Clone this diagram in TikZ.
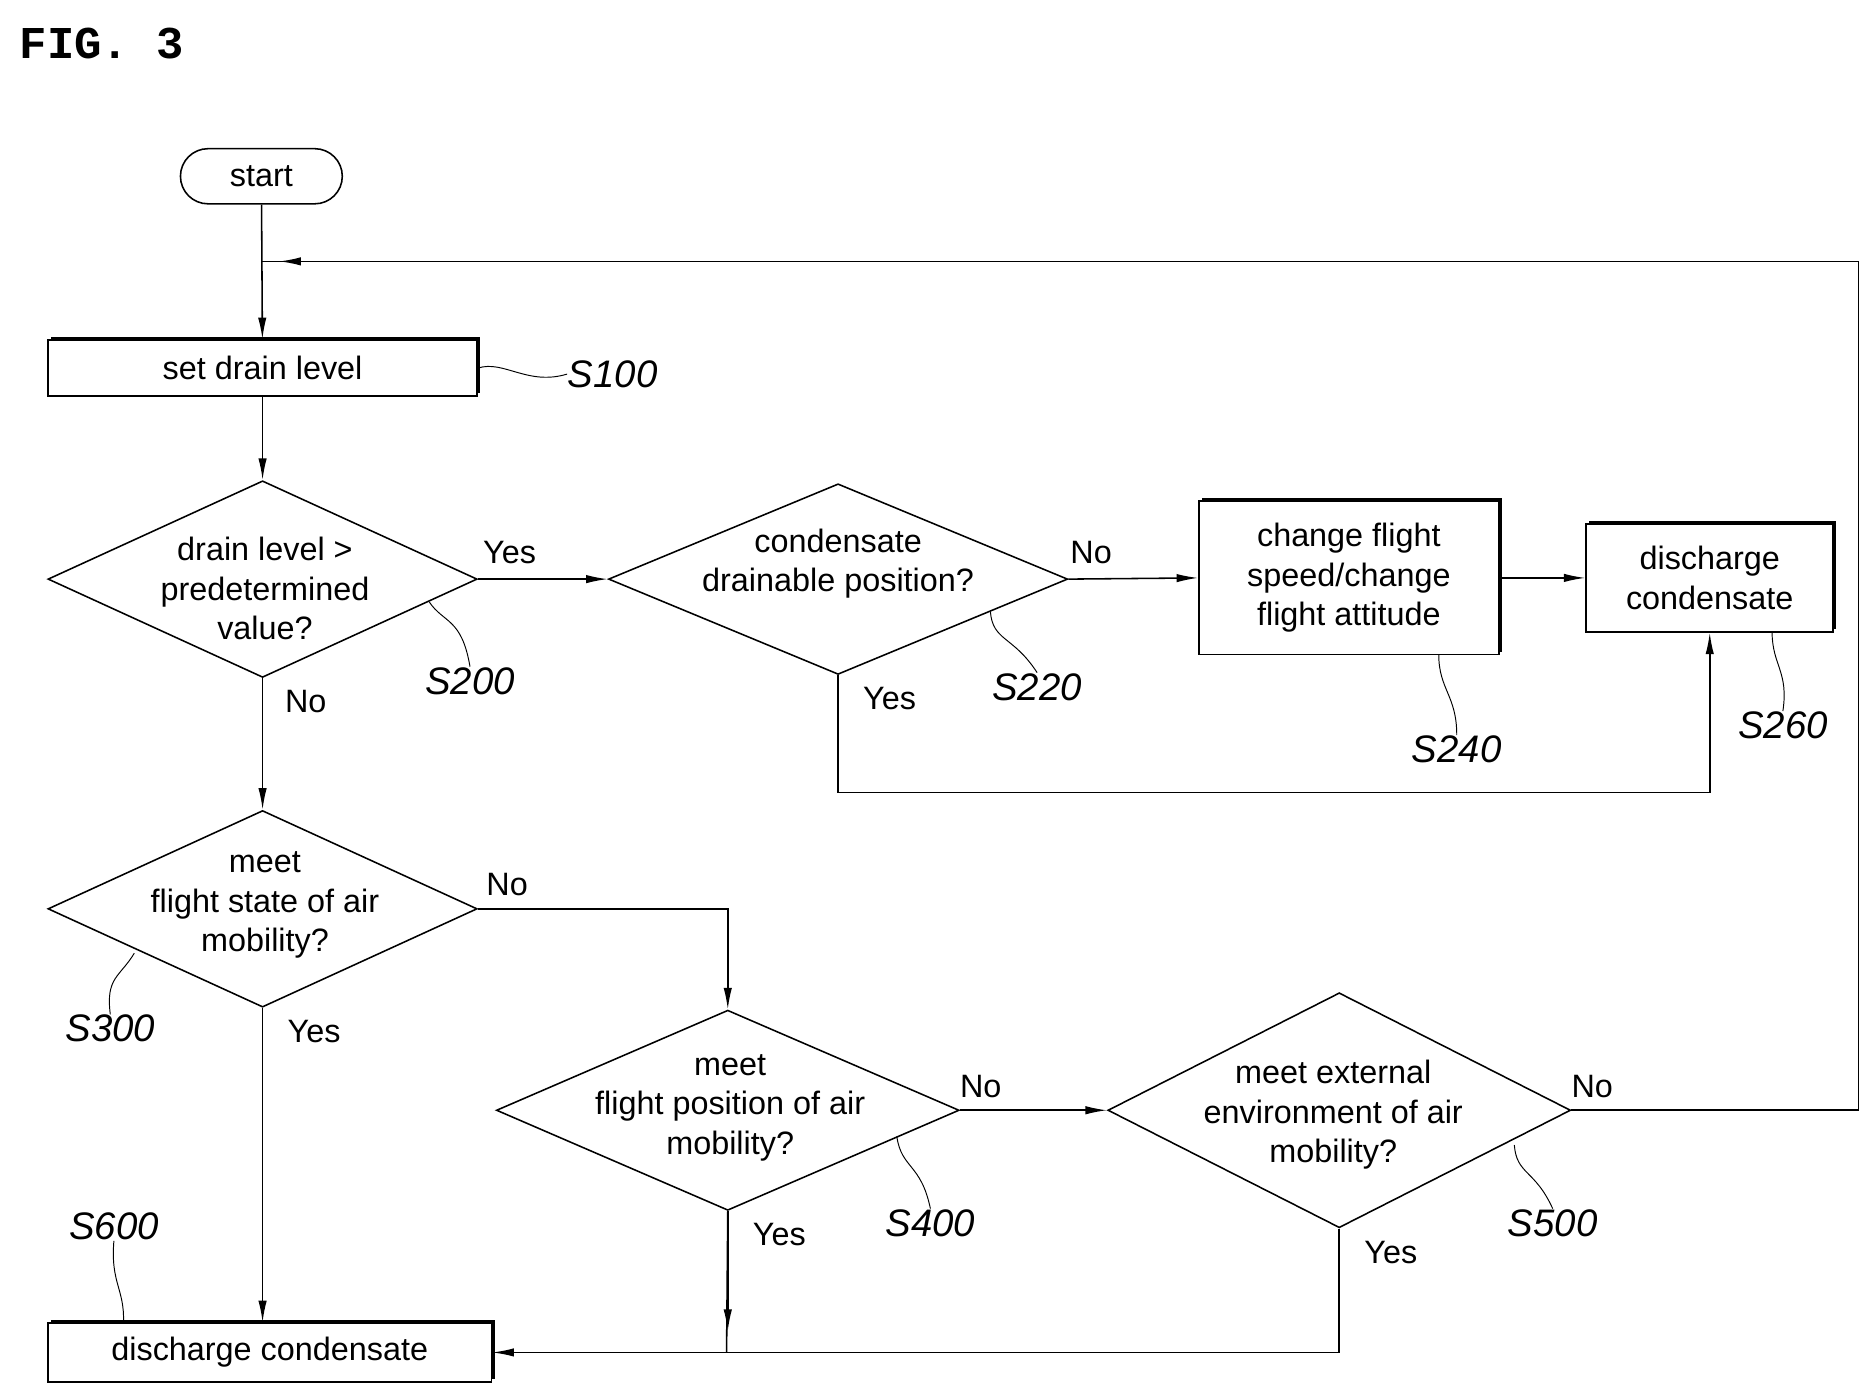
\documentclass[tikz,border=0pt]{standalone}
\usepackage{fontspec}
\setmainfont{Liberation Sans}
\newfontfamily\figfont{Liberation Mono}
\usetikzlibrary{arrows.meta,shapes.geometric,shadows}
\begin{document}
\begin{tikzpicture}[x=1pt,y=-1pt,
  line width=1.3pt,
  txt/.style={font=\fontsize{27}{33}\selectfont, align=center, inner sep=0pt},
  lab/.style={font=\fontsize{32}{32}\selectfont\rmfamily\itshape, inner sep=0pt},
  box/.style={draw, rectangle, inner sep=0pt, fill=white, drop shadow={shadow xshift=2.5pt, shadow yshift=2.5pt, fill=black, opacity=1}},
  dia/.style={draw, diamond, inner sep=0pt, aspect=2.2},
  arr/.style={-{Latex[length=18pt,width=7pt]}},
  sq/.style={line width=0.8pt}]
\useasboundingbox (0,0) rectangle (1553,1160);
\node[anchor=west, font=\figfont\bfseries\fontsize{38}{38}\selectfont, inner sep=0pt] (fig) at (16,36) {FIG.\ 3};
% nodes
\node[draw, rounded corners=23pt, minimum width=135pt, minimum height=46pt, inner sep=0pt] (start) at (218,147) {};
\node[txt] at (start) {start};
\node[box, minimum width=358pt, minimum height=47pt] (s100) at (219,307) {};
\node[txt] at (s100) {set drain level};
\node[dia, minimum width=358pt, minimum height=164pt] (d1) at (219,483) {};
\node[txt] at (221,491) {drain level >\\predetermined\\value?};
\node[dia, minimum width=383pt, minimum height=159pt] (d2) at (699,483) {};
\node[txt] at (699,470) {condensate\\drainable position?};
\node[box, minimum width=250pt, minimum height=128pt] (s240) at (1125,482) {};
\node[txt] at (s240) {change flight\\speed/change\\flight attitude};
\node[box, minimum width=206pt, minimum height=90pt] (s260) at (1426,482) {};
\node[txt] at (s260) {discharge\\condensate};
\node[dia, minimum width=358pt, minimum height=164pt] (d3) at (219,758) {};
\node[txt] at (221,755) {meet\\flight state of air\\mobility?};
\node[dia, minimum width=386pt, minimum height=167pt] (d4) at (607,926) {};
\node[txt] at (609,924) {meet\\flight position of air\\mobility?};
\node[dia, minimum width=386pt, minimum height=196pt] (d5) at (1117,926) {};
\node[txt] at (1112,930) {meet external\\environment of air\\mobility?};
\node[box, minimum width=370pt, minimum height=49pt] (s600) at (225,1128) {};
\node[txt] at (s600) {discharge condensate};
% connectors
\coordinate (loop) at (218,218);
\coordinate (j4) at (606,1128);
\draw[arr] (start) -- (s100);
\draw[arr] (s100) -- (d1);
\draw[arr] (d1.east) -- (d2.west);
\draw[arr] (d2.east) -- (s240.west);
\draw[arr] (s240.east) -- (s260.west);
\draw[arr] (d2.south) -- ++(0,98) -| (s260.south);
\draw[arr] (d1.south) -- (d3.north);
\draw[arr] (d3.east) -| (d4.north);
\draw[arr] (d4.east) -- (d5.west);
\draw[arr] (d3.south) -- (s600.north -| d3.south);
\draw (d5.east) -- (1550,926) -- (1550,218) -- (loop);
\draw[arr] (1550,218) -- (233,218);
\draw[arr] (d4.south) -- ++(0,100);
\draw (d4.south) -- (j4);
\draw[arr] (d5.south) |- (s600.east);
% Yes/No labels
\node[txt] at (425,461) {Yes};
\node[txt] at (910,461) {No};
\node[txt] at (742,583) {Yes};
\node[txt] at (255,585) {No};
\node[txt] at (423,738) {No};
\node[txt] at (262,860) {Yes};
\node[txt] at (818,906) {No};
\node[txt] at (650,1030) {Yes};
\node[txt] at (1328,906) {No};
\node[txt] at (1160,1045) {Yes};
% step labels with leaders
\node[lab] (l100) at (511,312) {S100};
\draw[sq] (s100.east) .. controls (420,300) and (440,322) .. (l100.west);
\node[lab] (l200) at (392,568) {S200};
\draw[sq] (358,502) .. controls (370,520) and (385,515) .. (l200.north);
\node[lab] (l220) at (865,573) {S220};
\draw[sq] (826,510) .. controls (828,535) and (845,530) .. (l220.north);
\node[lab] (l240) at (1215,625) {S240};
\draw[sq] (1200,546) .. controls (1200,575) and (1215,580) .. (l240.north);
\node[lab] (l260) at (1487,605) {S260};
\draw[sq] (1478,527) .. controls (1478,555) and (1492,560) .. (l260.north);
\node[lab] (l300) at (92,858) {S300};
\draw[sq] (112,795) .. controls (100,815) and (88,815) .. (l300.north);
\node[lab] (l400) at (776,1020) {S400};
\draw[sq] (748,948) .. controls (752,975) and (768,970) .. (l400.north);
\node[lab] (l500) at (1295,1020) {S500};
\draw[sq] (1263,955) .. controls (1265,980) and (1280,975) .. (l500.north);
\node[lab] (l600) at (95,1023) {S600};
\draw[sq] (l600.south) .. controls (92,1070) and (104,1075) .. (103,1103);
\end{tikzpicture}
\end{document}
